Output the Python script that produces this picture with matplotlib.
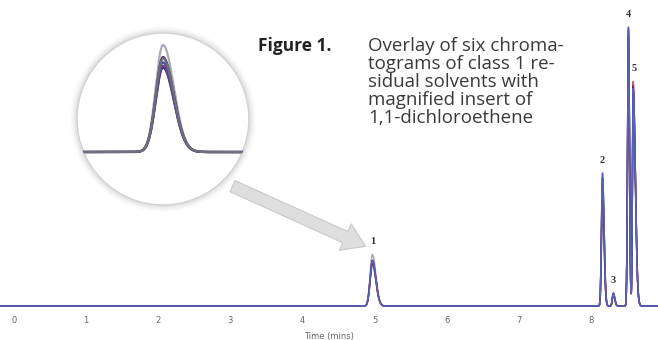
import numpy as np
import matplotlib.pyplot as plt
from matplotlib.patches import Circle

# retention times (min) of the five class 1 solvents
peak_ids = ['1', '2', '3', '4', '5']
peak_times = [4.97, 8.16, 8.31, 8.52, 8.585]
sigma_left = [0.032, 0.014, 0.013, 0.012, 0.010]
sigma_right = [0.048, 0.022, 0.020, 0.014, 0.030]

# peak heights for the six overlaid runs (relative response)
run_colors = ['#9ccc85', '#d65a7e', '#a7a7b6', '#6b2a7a', '#3c3a8e', '#5a62b2']
run1 = [14.6, 36.0, 4.0, 93.0, 79.0]
run2 = [14.9, 37.0, 4.2, 94.0, 80.5]
run3 = [18.5, 46.0, 4.6, 98.0, 78.0]
run4 = [16.4, 44.0, 4.4, 97.0, 79.0]
run5 = [15.5, 46.0, 4.5, 99.0, 77.0]
run6 = [16.2, 47.7, 4.7, 100.0, 78.0]
runs = [run1, run2, run3, run4, run5, run6]

ticks = [0, 1, 2, 3, 4, 5, 6, 7, 8]

t = np.linspace(-0.3, 9.0, 14000)


def trace(heights):
    y = np.zeros_like(t)
    for rt, h, sl, sr in zip(peak_times, heights, sigma_left, sigma_right):
        s = np.where(t < rt, sl, sr)
        y += h * np.exp(-0.5 * ((t - rt) / s) ** 2)
    return y


fig = plt.figure(figsize=(6.58, 3.40), dpi=100)
ax = fig.add_axes([0, 0.0835, 1, 0.9165])

for heights, c in zip(runs, run_colors):
    ax.plot(t, trace(heights), color=c, lw=1.1)

ax.set_xlim(-0.194, 8.93)
ax.set_ylim(-2, 109.7)
for s in ax.spines.values():
    s.set_visible(False)
ax.set_yticks([])
ax.set_xticks(ticks)
ax.tick_params(axis='x', length=0, pad=3, labelsize=6, labelcolor='#666666')
ax.set_xlabel('Time (mins)', fontsize=6, color='#666666', labelpad=5)

# peak numbers
tops = np.max(np.array(runs), axis=0)
for i, lab in enumerate(peak_ids):
    ax.text(peak_times[i] + (0.012 if lab == '5' else 0), tops[i] + 3, lab,
            ha='center', va='bottom', fontsize=7.5, fontweight='bold',
            family='Liberation Serif', color='#333333')

# magnified insert of peak 1 inside a circle
ins = fig.add_axes([0.117, 0.397, 0.2614, 0.506])
ins.set_xlim(peak_times[0] - 0.38, peak_times[0] + 0.38)
ins.set_ylim(-9.16, 20.57)
ins.axis('off')
clip = Circle((0.5, 0.5), 0.5, transform=ins.transAxes, facecolor='white',
              edgecolor='none', zorder=0)
ins.add_patch(clip)
for r, lw, a in [(0.522, 4, 0.12), (0.514, 3, 0.2), (0.506, 2, 0.35), (0.5, 1.1, 0.9)]:
    ins.add_patch(Circle((0.5, 0.5), r, transform=ins.transAxes, fill=False,
                         edgecolor='#cfcfcf', lw=lw, alpha=a, clip_on=False))
inset_colors = ['#2f2a55', '#7a3a8a', '#a9aab8', '#4b1f5e', '#4a4f99', '#6f6f7a']
for heights, c in zip(runs, inset_colors):
    ln, = ins.plot(t, trace(heights), color=c, lw=1.6)
    ln.set_clip_path(clip)

# arrow from the insert to peak 1
ax.annotate('', xy=(peak_times[0] - 0.06, tops[0] + 2.5), xycoords='data',
            xytext=(230 / 658, 1 - 185 / 340), textcoords='figure fraction',
            arrowprops=dict(arrowstyle='simple,head_width=1.3,head_length=1.0,tail_width=0.55',
                            mutation_scale=16, facecolor='#dedede', edgecolor='#c8c8c8', lw=0.8))

fig.text(258 / 658, 1 - 37 / 340, 'Figure 1.', fontsize=12.5, fontweight='bold',
         family='Open Sans', color='#222222', va='top', ha='left')
fig.text(368 / 658, 1 - 37 / 340,
         'Overlay of six chroma-\ntograms of class 1 re-\nsidual solvents with\nmagnified insert of\n1,1-dichloroethene',
         fontsize=13.5, family='Open Sans', color='#3a3a3a', va='top', ha='left', linespacing=1.0)

fig.savefig('out.png', dpi=100)
